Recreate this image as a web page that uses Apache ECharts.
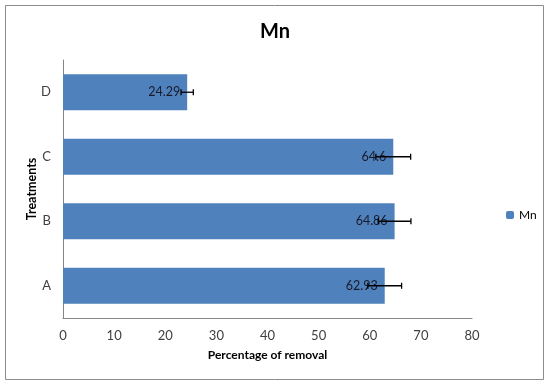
<!DOCTYPE html>
<html>
<head>
<meta charset="utf-8">
<script src="https://cdn.jsdelivr.net/npm/echarts@6/dist/echarts.min.js"></script>
<style>html,body{margin:0;padding:0;background:#fff}#c{width:550px;height:384px}</style>
</head>
<body>
<div id="c"></div>
<script>
var categories = ['A', 'B', 'C', 'D'];
var values = [62.93, 64.86, 64.6, 24.29];
var errors = [3.3, 3.2, 3.4, 1.2];
var xTicks = { min: 0, max: 80, interval: 10 };

var chart = echarts.init(document.getElementById('c'), null, { renderer: 'canvas' });
var font = 'Lato, "Open Sans", sans-serif';
var errData = values.map(function (v, i) { return [v, i, errors[i]]; });

chart.setOption({
  backgroundColor: '#fff',
  animation: false,
  textStyle: { fontFamily: font },
  title: {
    text: 'Mn', left: 'center', top: 17,
    textStyle: { fontSize: 20, fontWeight: 'bold', color: '#000', fontFamily: font }
  },
  legend: {
    data: ['Mn'], left: 501, top: 204, itemWidth: 8, itemHeight: 8, itemGap: 4,
    textStyle: { fontSize: 12, color: '#000', fontFamily: font }
  },
  grid: { left: 63, right: 78, top: 60, bottom: 66 },
  xAxis: {
    type: 'value', min: xTicks.min, max: xTicks.max, interval: xTicks.interval,
    name: 'Percentage of removal', nameLocation: 'middle', nameGap: 31,
    nameMoveOverlap: false,
    nameTextStyle: { fontSize: 12, fontWeight: 'bold', color: '#000', fontFamily: font },
    axisLine: { show: true, lineStyle: { color: '#868686' } },
    axisTick: { show: false },
    splitLine: { show: false },
    axisLabel: { fontSize: 13, color: '#404040', margin: 11, fontFamily: font }
  },
  yAxis: {
    type: 'category', data: categories,
    name: 'Treatments', nameLocation: 'middle', nameGap: 25, nameRotate: 90,
    nameMoveOverlap: false,
    nameTextStyle: { fontSize: 12.5, fontWeight: 'bold', color: '#000', fontFamily: font },
    axisLine: { show: true, lineStyle: { color: '#868686' } },
    axisTick: { show: false },
    axisLabel: { fontSize: 13, color: '#404040', margin: 12, fontFamily: font }
  },
  series: [
    {
      name: 'Mn', type: 'bar', data: values, barCategoryGap: '44%',
      itemStyle: { color: '#4F81BD' },
      label: {
        show: true, position: 'insideRight', distance: 7,
        fontSize: 12.5, color: '#1a1a2a', fontFamily: font,
        formatter: function (p) { return String(p.value); }
      }
    },
    {
      name: 'err', type: 'custom', data: errData, z: 10,
      renderItem: function (params, api) {
        var v = api.value(0), y = api.value(1), e = api.value(2);
        var lo = api.coord([v - e, y]);
        var hi = api.coord([v + e, y]);
        var h = 3;
        var style = { stroke: '#000', lineWidth: 1.3 };
        return {
          type: 'group',
          children: [
            { type: 'line', shape: { x1: lo[0], y1: lo[1], x2: hi[0], y2: hi[1] }, style: style },
            { type: 'line', shape: { x1: lo[0], y1: lo[1] - h, x2: lo[0], y2: lo[1] + h }, style: style },
            { type: 'line', shape: { x1: hi[0], y1: hi[1] - h, x2: hi[0], y2: hi[1] + h }, style: style }
          ]
        };
      }
    }
  ],
  graphic: [
    { type: 'rect', shape: { x: 5.5, y: 5.5, width: 538, height: 374 },
      style: { fill: 'none', stroke: '#8c8c8c', lineWidth: 1 }, silent: true }
  ]
});
</script>
</body>
</html>
